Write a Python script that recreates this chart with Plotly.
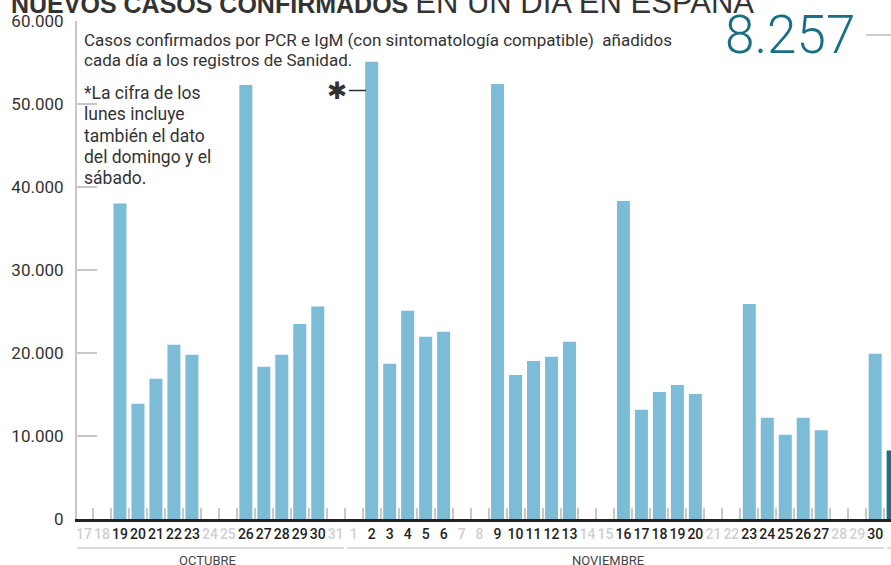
import plotly.graph_objects as go

# ---- data ----
day_labels = ["17", "18", "19", "20", "21", "22", "23", "24", "25", "26", "27", "28", "29", "30", "31",
              "1", "2", "3", "4", "5", "6", "7", "8", "9", "10", "11", "12", "13", "14", "15",
              "16", "17", "18", "19", "20", "21", "22", "23", "24", "25", "26", "27", "28", "29", "30",
              "1"]
cases = [None, None, 38000, 13900, 16900, 21000, 19800, None, None, 52300, 18350, 19800, 23500, 25600, None,
         None, 55100, 18700, 25100, 21950, 22550, None, None, 52400, 17350, 19050, 19550, 21350, None, None,
         38300, 13150, 15300, 16150, 15050, None, None, 25900, 12200, 10150, 12200, 10700, None, None, 19900,
         8257]
months = ["OCTUBRE", "NOVIEMBRE"]
y_ticks = [0, 10000, 20000, 30000, 40000, 50000, 60000]
latest_value = "8.257"
desc_lines = ["Casos confirmados por PCR e IgM (con sintomatología compatible)  añadidos",
              "cada día a los registros de Sanidad."]
note_lines = ["*La cifra de los", "lunes incluye", "también el dato", "del domingo y el", "sábado."]

W, H = 891, 565
L, R, T, B = 77, 0, 21, 46
PW, PH = W - L - R, H - T - B


def px(x):
    return (x - L) / PW


def py(y):
    return (H - B - y) / PH


x_idx = list(range(len(day_labels)))
bar_colors = ["#7cbcd6"] * (len(cases) - 1) + ["#17718a"]

DARK = "#222222"
LIGHT = "#cfcfd4"
ticktext = [
    '<span style="color:%s">%s</span>' % (DARK if v is not None else LIGHT, d)
    for d, v in zip(day_labels, cases)
]

fig = go.Figure()
fig.add_trace(go.Bar(x=x_idx, y=cases, marker=dict(color=bar_colors, line=dict(width=0)),
                     hoverinfo="skip"))

fig.update_layout(
    width=W, height=H,
    margin=dict(l=L, r=R, t=T, b=B, autoexpand=False),
    paper_bgcolor="white", plot_bgcolor="white",
    bargap=0.277,
    showlegend=False,
    separators=",.",
    font=dict(family="Roboto", color="#333333"),
)

fig.update_xaxes(
    range=[-0.39, 44.88], automargin=False,
    tickmode="array", tickvals=x_idx, ticktext=ticktext,
    tickfont=dict(family="Roboto", size=14, weight=500),
    ticks="", showgrid=False, zeroline=False,
    showline=True, linecolor="#222222", linewidth=3,
    minor=dict(tickmode="array", tickvals=[i + 0.5 for i in range(-1, 46)],
               ticks="inside", ticklen=11, tickwidth=2, tickcolor="#c8c8c8", showgrid=False),
)
fig.update_yaxes(
    range=[0, 60000], automargin=False,
    tickmode="array", tickvals=y_ticks, tickformat=",d",
    tickfont=dict(family="Roboto", size=17, color="#333333"),
    ticks="inside", ticklen=20, tickwidth=2, tickcolor="#c8c8c8",
    showgrid=False, zeroline=False,
    showline=True, linecolor="#c8c8c8", linewidth=2,
    ticklabelstandoff=8,
)

ann = []
# title (cut at top)
ann.append(dict(text='<b>NUEVOS CASOS CONFIRMADOS</b> <span style="font-size:31px">EN UN DÍA EN ESPAÑA</span>',
                x=px(9), y=py(2.5), xref="paper", yref="paper", xanchor="left", yanchor="middle",
                showarrow=False, font=dict(family="Liberation Sans", size=25, color="#333333")))
# big latest value
ann.append(dict(text=latest_value, x=px(857), y=py(35), xref="paper", yref="paper",
                xanchor="right", yanchor="middle", showarrow=False,
                font=dict(family="Roboto", size=53, color="#1b6f84", weight=300)))
# description
for line, cy in zip(desc_lines, [40, 60]):
    ann.append(dict(text=line, x=px(82), y=py(cy), xref="paper", yref="paper", xanchor="left",
                    yanchor="middle", align="left", showarrow=False,
                    font=dict(family="Roboto", size=17, color="#333333")))
# note
for line, cy in zip(note_lines, [93, 114, 136, 157, 178]):
    ann.append(dict(text=line, x=px(82), y=py(cy), xref="paper", yref="paper", xanchor="left",
                    yanchor="middle", align="left", showarrow=False,
                    font=dict(family="Roboto", size=17.5, color="#333333")))
# asterisk marker
ann.append(dict(text="✱", x=px(337), y=py(91), xref="paper", yref="paper", xanchor="center",
                yanchor="middle", showarrow=False, font=dict(family="DejaVu Sans", size=24, color="#333333")))
# month labels
for m, cx in zip(months, [207, 608]):
    ann.append(dict(text=m, x=px(cx), y=py(560), xref="paper", yref="paper", xanchor="center",
                    yanchor="middle", showarrow=False, font=dict(family="Roboto", size=13, color="#444444")))
fig.update_layout(annotations=ann)

shapes = []
shapes.append(dict(type="line", xref="paper", yref="paper", x0=px(349), x1=px(366), y0=py(90.5), y1=py(90.5),
                   line=dict(color="#333333", width=1.5)))
shapes.append(dict(type="line", xref="paper", yref="paper", x0=px(866), x1=px(891), y0=py(35), y1=py(35),
                   line=dict(color="#999999", width=1)))
for a, b in [(-0.39, 14.45), (14.62, 44.5), (44.67, 46)]:
    shapes.append(dict(type="line", xref="x", yref="paper", x0=a, x1=b, y0=py(548), y1=py(548),
                       line=dict(color="#dcdcdc", width=2)))
fig.update_layout(shapes=shapes)

fig.write_html("out.html", config={"displayModeBar": False},
               post_script="document.body.style.margin='0';document.body.style.padding='0';")
